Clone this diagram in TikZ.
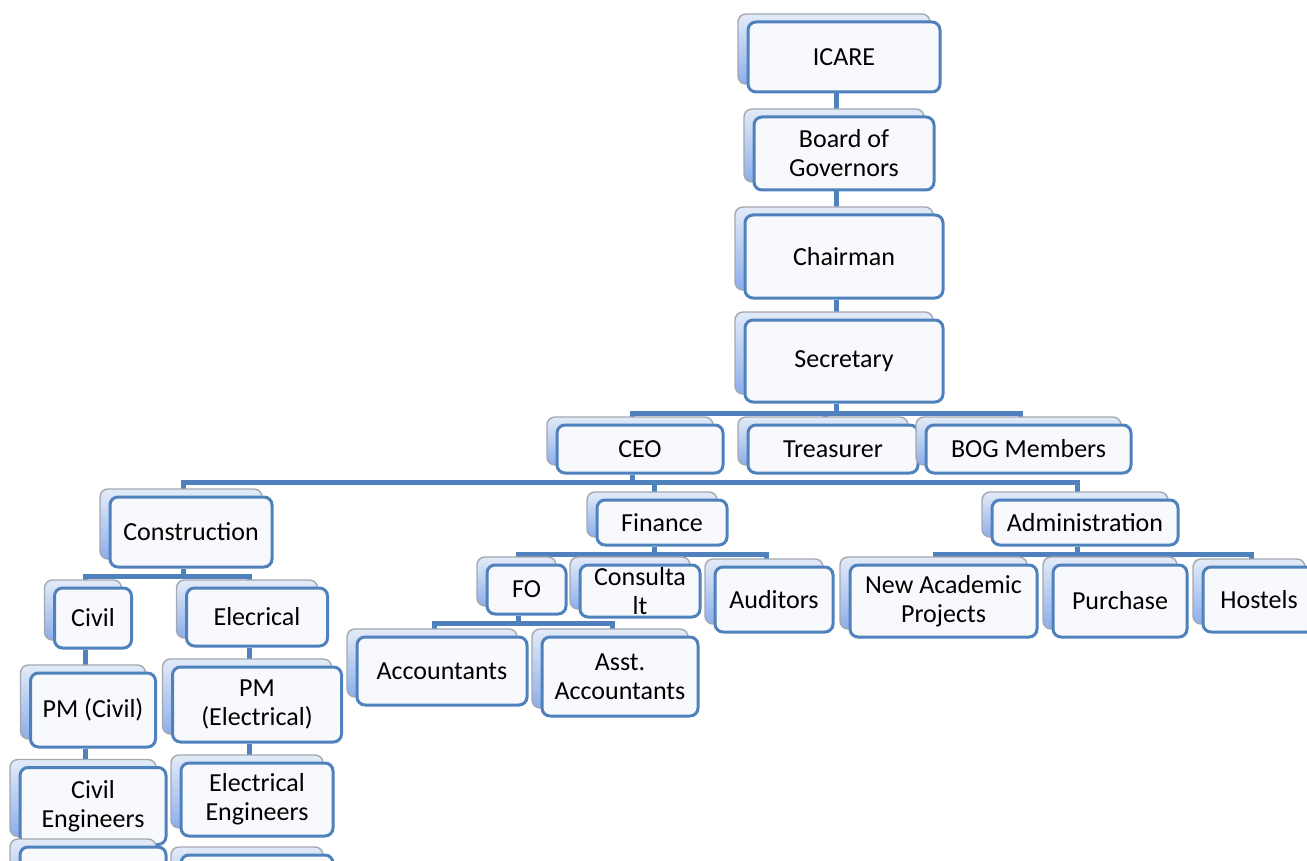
\documentclass[tikz,border=0pt]{standalone}
\usepackage{fontspec}
\setmainfont{Carlito}
\usetikzlibrary{shadows,backgrounds}

\definecolor{orgblue}{HTML}{4F81BD}
\definecolor{orgfill}{HTML}{F7F9FC}
\definecolor{orgtop}{HTML}{E3EBF8}
\definecolor{orgbottom}{HTML}{8DAEEA}
\definecolor{orgedge}{HTML}{A3A8B0}

\tikzset{
  unit/.style={draw=orgblue, line width=3pt, rounded corners=8pt, fill=orgfill,
    inner sep=0pt, align=center, font=\fontsize{26}{29}\selectfont,
    copy shadow={shadow xshift=-10pt, shadow yshift=8pt, draw=orgedge,
      line width=1.4pt, top color=orgtop, bottom color=orgbottom}},
  link/.style={draw=orgblue, line width=5pt}
}

\begin{document}
\begin{tikzpicture}[x=1pt,y=-1pt]
  \useasboundingbox (0,0) rectangle (1307,861);
  \clip (0,0) rectangle (1307,861);

  \node[unit, minimum width=192pt, minimum height=70pt] (icare) at (844,57) {ICARE};
  \node[unit, minimum width=180pt, minimum height=73pt] (bog) at (844,153.5) {Board of\\Governors};
  \node[unit, minimum width=198pt, minimum height=83pt] (chair) at (844,256.5) {Chairman};
  \node[unit, minimum width=198pt, minimum height=82pt] (sec) at (844,361) {Secretary};

  \node[unit, minimum width=166pt, minimum height=48pt] (ceo) at (640,449) {CEO};
  \node[unit, minimum width=170pt, minimum height=48pt] (treas) at (833,449) {Treasurer};
  \node[unit, minimum width=205pt, minimum height=48pt] (bogm) at (1028.5,449) {BOG Members};

  \node[unit, minimum width=162pt, minimum height=70pt] (constr) at (191,532) {Construction};
  \node[unit, minimum width=130pt, minimum height=45pt] (fin) at (662,522.5) {Finance};
  \node[unit, minimum width=186pt, minimum height=45pt] (admin) at (1085,522.5) {Administration};

  \node[unit, minimum width=77pt, minimum height=60pt] (civil) at (93,618) {Civil};
  \node[unit, minimum width=141pt, minimum height=58pt] (elec) at (257,617) {Elecrical};
  \node[unit, minimum width=125pt, minimum height=74pt] (pmc) at (93,710) {PM (Civil)};
  \node[unit, minimum width=169pt, minimum height=75pt] (pme) at (257,704.5) {PM\\(Electrical)};
  \node[unit, minimum width=146pt, minimum height=77pt] (cive) at (93,806) {Civil\\Engineers};
  \node[unit, minimum width=152pt, minimum height=73pt] (elee) at (257,799.5) {Electrical\\Engineers};
  \node[unit, minimum width=146pt, minimum height=70pt] (civn) at (93,882) {};
  \node[unit, minimum width=152pt, minimum height=70pt] (elen) at (257,890) {};

  \node[unit, minimum width=79pt, minimum height=49pt] (fo) at (526.5,589.5) {FO};
  \node[unit, minimum width=120pt, minimum height=52pt] (cons) at (640,591) {};
  \node[align=center, inner sep=0pt, font=\fontsize{26}{29}\selectfont] (constext) at (cons.center) {Consulta\\lt};
  \node[unit, minimum width=118pt, minimum height=65pt] (aud) at (774,599.5) {Auditors};
  \node[unit, minimum width=170pt, minimum height=68pt] (acc) at (442,671) {Accountants};
  \node[unit, minimum width=156pt, minimum height=79pt] (asst) at (620,676.5) {Asst.\\Accountants};

  \node[unit, minimum width=187pt, minimum height=72pt] (nap) at (943.5,601) {New Academic\\Projects};
  \node[unit, minimum width=134pt, minimum height=72pt] (pur) at (1120,601) {Purchase};
  \node[unit, minimum width=112pt, minimum height=65pt] (hos) at (1259,599.5) {Hostels};

  \begin{scope}[on background layer]
    \draw[link] ([xshift=-8pt]icare.south) -- ([xshift=-8pt]bog.north);
    \draw[link] ([xshift=-8pt]bog.south) -- ([xshift=-8pt]chair.north);
    \draw[link] ([xshift=-8pt]chair.south) -- ([xshift=-8pt]sec.north);
    \foreach \c in {ceo,treas,bogm}
      \draw[link] ([xshift=-8pt]sec.south) -- ++(0,10) -| ([xshift=-8pt]\c.north);
    \foreach \c in {constr,fin,admin}
      \draw[link] ([xshift=-8pt]ceo.south) -- ++(0,8) -| ([xshift=-8pt]\c.north);
    \foreach \c in {civil,elec}
      \draw[link] ([xshift=-8pt]constr.south) -- ++(0,8) -| ([xshift=-8pt]\c.north);
    \foreach \c in {fo,cons,aud}
      \draw[link] ([xshift=-8pt]fin.south) -- ++(0,8) -| ([xshift=-8pt]\c.north);
    \foreach \c in {acc,asst}
      \draw[link] ([xshift=-8pt]fo.south) -- ++(0,8) -| ([xshift=-8pt]\c.north);
    \foreach \c in {nap,pur,hos}
      \draw[link] ([xshift=-8pt]admin.south) -- ++(0,8) -| ([xshift=-8pt]\c.north);
    \draw[link] ([xshift=-8pt]civil.south) -- ([xshift=-8pt]pmc.north);
    \draw[link] ([xshift=-8pt]pmc.south) -- ([xshift=-8pt]cive.north);
    \draw[link] ([xshift=-8pt]elec.south) -- ([xshift=-8pt]pme.north);
    \draw[link] ([xshift=-8pt]pme.south) -- ([xshift=-8pt]elee.north);
  \end{scope}
\end{tikzpicture}
\end{document}
